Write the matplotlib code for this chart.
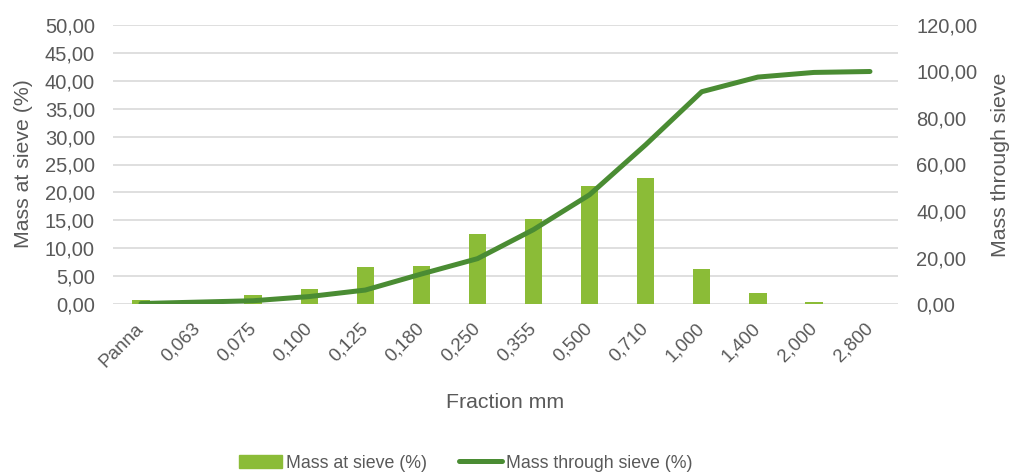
import matplotlib
matplotlib.use("Agg")
import matplotlib.pyplot as plt
from matplotlib.ticker import FuncFormatter, MultipleLocator
from matplotlib.lines import Line2D
from matplotlib.patches import Patch

plt.rcParams['font.family'] = ['Liberation Sans', 'DejaVu Sans']

categories = ["Panna", "0,063", "0,075", "0,100", "0,125", "0,180", "0,250",
              "0,355", "0,500", "0,710", "1,000", "1,400", "2,000", "2,800"]
mass_at_sieve = [0.7, 0.0, 1.6, 2.7, 6.6, 6.8, 12.5, 15.2, 21.2, 22.6, 6.3, 2.0, 0.35, 0.0]
mass_through = [0.2, 0.8, 1.4, 3.2, 6.0, 12.9, 19.5, 32.0, 47.0, 68.5, 91.3, 97.6, 99.6, 100.0]

text_color = "#595959"
bar_color = "#8BBC37"
line_color = "#4A8C33"
grid_color = "#D9D9D9"

fig = plt.figure(figsize=(10.12, 4.76), dpi=100)
ax = fig.add_axes([113/1012, 1-304/476, (898-113)/1012, (304-25)/476])
ax2 = ax.twinx()

x = list(range(len(categories)))
ax.bar(x, mass_at_sieve, width=0.31, color=bar_color, zorder=2)
ax2.plot(x, mass_through, color=line_color, lw=3.6, solid_capstyle='round', zorder=3)

ax.set_xlim(-0.5, len(categories) - 0.5)
ax.set_ylim(0, 50)
ax2.set_ylim(0, 120)
ax.yaxis.set_major_locator(MultipleLocator(5))
ax2.yaxis.set_major_locator(MultipleLocator(20))
fmt = FuncFormatter(lambda v, p: f"{v:.2f}".replace(".", ","))
ax.yaxis.set_major_formatter(fmt)
ax2.yaxis.set_major_formatter(fmt)

ax.grid(axis='y', color=grid_color, lw=1.2, zorder=0)
ax.set_axisbelow(True)
for a in (ax, ax2):
    for s in a.spines.values():
        s.set_visible(False)
    a.tick_params(length=0, colors=text_color, labelsize=14.5)

ax.set_xticks(x)
ax.set_xticklabels(categories, rotation=45, ha='right', va='center',
                   rotation_mode='anchor', fontsize=13.5)
ax.tick_params(axis='x', pad=16)
ax.tick_params(axis='y', pad=13)
ax2.tick_params(axis='y', pad=13)

ax.set_xlabel("Fraction mm", color=text_color, fontsize=15.3, labelpad=16)
ax.set_ylabel("Mass at sieve (%)", color=text_color, fontsize=15.3)
ax2.set_ylabel("Mass through sieve", color=text_color, fontsize=15.3)
ax.yaxis.set_label_coords(-0.102, 0.505)
ax2.yaxis.set_label_coords(1.119, 0.5)

handles = [Patch(color=bar_color), Line2D([0], [0], color=line_color, lw=3.6, solid_capstyle='round')]
fig.legend(handles, ["Mass at sieve (%)", "Mass through sieve (%)"], loc='center',
           bbox_to_anchor=(466/1012, 1-463/476), ncol=2, frameon=False,
           fontsize=12.8, labelcolor=text_color, handlelength=2.4, handletextpad=0.25,
           columnspacing=1.8)

fig.savefig("out.png", dpi=100)
